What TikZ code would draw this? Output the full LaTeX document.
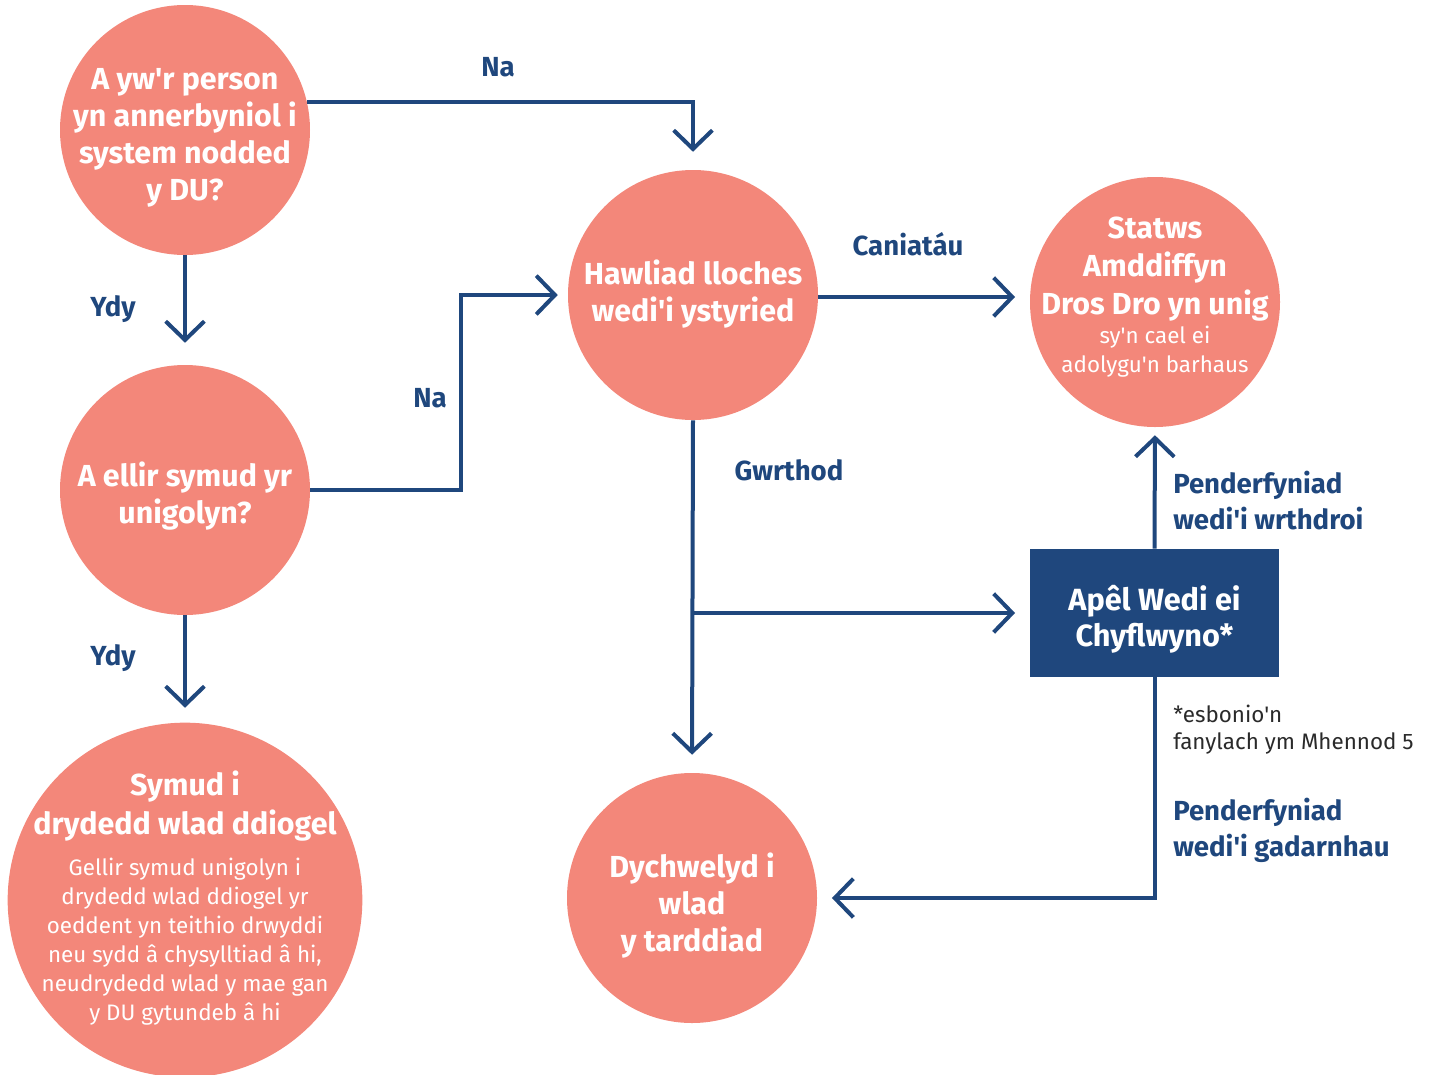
\documentclass[tikz,border=0pt]{standalone}
\usepackage{fontspec}
\setmainfont{Fira Sans}[Ligatures=TeXOff]
\usetikzlibrary{arrows.meta,calc}
\definecolor{salmon}{HTML}{F3877A}
\definecolor{navy}{HTML}{1F477D}
\definecolor{note}{HTML}{2A2A2A}
\begin{document}
\begin{tikzpicture}[x=0.75pt,y=-0.75pt,
  bub/.style={circle, fill=salmon, inner sep=0pt, minimum size=187.5pt},
  ctext/.style={text=white, align=center, inner sep=0pt, font=\bfseries\fontsize{22.8}{27.75}\selectfont},
  csmall/.style={text=white, align=center, inner sep=0pt, font=\fontsize{16.8}{21.75}\selectfont},
  lab/.style={text=navy, inner sep=0pt, font=\bfseries\fontsize{20.7}{27}\selectfont},
  conn/.style={draw=navy, line width=3pt},
  arr/.style={conn, -{Straight Barb[length=14pt,width=29pt]}}
]
\useasboundingbox (0,0) rectangle (1429,1075);
% circles
\node[bub] (c1) at (185,130) {};
\node[bub] (c2) at (185,490) {};
\node[bub, minimum size=266pt] (c3) at (185,900) {};
\node[bub] (hw) at (693,295) {};
\node[bub] (st) at (1155,302) {};
\node[bub] (dy) at (692,898) {};
\node[rectangle, fill=navy, minimum width=186.75pt, minimum height=96pt, inner sep=0pt] (box) at (1154.5,613) {};
\node[text=white, align=center, inner sep=0pt, font=\bfseries\fontsize{23}{27}\selectfont] (boxt) at (1154.5,619) {Apêl Wedi ei\\Chyflwyno*};
% circle texts
\node[ctext] (t1) at (185,138) {A yw'r person\\yn annerbyniol i\\system nodded\\y DU?};
\node[ctext] (t2) at (185,496) {A ellir symud yr\\unigolyn?};
\node[ctext, font=\bfseries\fontsize{22.8}{29.25}\selectfont] (t3a) at (185,806) {Symud i\\drydedd wlad ddiogel};
\node[csmall] (t3b) at (185,942) {Gellir symud unigolyn i\\drydedd wlad ddiogel yr\\oeddent yn teithio drwyddi\\neu sydd â chysylltiad â hi,\\neudrydedd wlad y mae gan\\y DU gytundeb â hi};
\node[ctext] (t4) at (693,294) {Hawliad lloches\\wedi'i ystyried};
\node[ctext, font=\bfseries\fontsize{22.8}{28.5}\selectfont] (t5a) at (1155,269) {Statws\\Amddiffyn\\Dros Dro yn unig};
\node[csmall] (t5b) at (1155,352) {sy'n cael ei\\adolygu'n barhaus};
\node[ctext] (t6) at (692,906) {Dychwelyd i\\wlad\\y tarddiad};
% connectors
\draw[arr, shorten >=13.5pt] (c1.13) -| (hw.north);
\draw[arr, shorten >=16.5pt] (c1.south) -- (c2.north);
\draw[arr, shorten >=7.5pt] (c2.east) -- ++(151,0) |- (hw.west);
\draw[arr, shorten >=11pt] (c2.south) -- (c3.north);
\draw[arr, shorten >=11pt] (hw.east |- 0,297) -- (st.west |- 0,297);
\draw[arr, shorten >=13.5pt] (hw.south) -- (dy.north);
\draw[arr, shorten >=11pt] (hw.south |- box.west) -- (box.west);
\draw[arr, shorten >=6pt] (box.north) -- (st.south);
\draw[arr, shorten >=11pt] (box.south) |- (dy.east);
% labels
\node[lab] (l1) at (498,67) {Na};
\node[lab] (l2) at (113,309) {Ydy};
\node[lab] (l3) at (430,398) {Na};
\node[lab] (l4) at (113,658) {Ydy};
\node[lab] (l5) at (908,244) {Caniatáu};
\node[lab] (l6) at (789,470) {Gwrthod};
\node[lab, anchor=west, align=left] (l7) at (1173,501) {Penderfyniad\\wedi'i wrthdroi};
\node[lab, anchor=west, align=left] (l8) at (1173,830) {Penderfyniad\\wedi'i gadarnhau};
\node[anchor=west, align=left, inner sep=0pt, text=note, font=\fontsize{16.8}{20.25}\selectfont] (fn) at (1173,729.5) {*esbonio'n\\fanylach ym Mhennod 5};
\end{tikzpicture}
\end{document}
